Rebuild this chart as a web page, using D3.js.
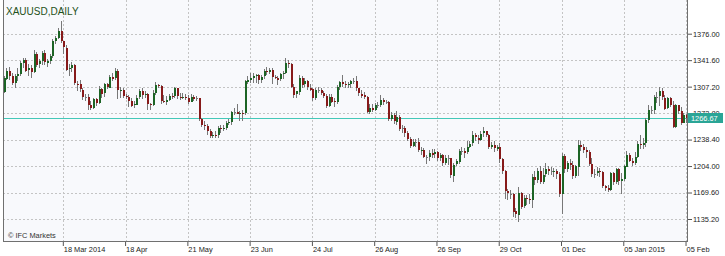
<!DOCTYPE html>
<html lang="en">
<head>
<meta charset="utf-8">
<script src="https://cdn.jsdelivr.net/npm/d3@7"></script>
<style>
  body { margin: 0; background: #fff; }
  svg text { font-family: "Liberation Sans", Arial, sans-serif; }
  .axis text { font-size: 7.4px; fill: #222; }
  .axis line { stroke: #555; }
  .axis path { display: none; }
  .grid line { stroke: #c4c4c4; stroke-dasharray: 2,2; shape-rendering: crispEdges; }
</style>
</head>
<body>
<div id="chart"></div>
<script>
// daily XAUUSD bars, 14 Feb 2014 .. 05 Feb 2015 (one entry per bar)
var open = [
  1300,1318,1328,1321,1312,1321,1324,1338,1342,1328,
  1331,1326,1350,1336,1340,1351,1339,1341,1347,1366,
  1370,1379,1366,1358,1330,1331,1335,1311,1310,1303,
  1294,1294,1283,1279,1291,1286,1304,1298,1310,1306,
  1320,1318,1327,1302,1303,1295,1294,1289,1283,1284,
  1293,1301,1296,1297,1284,1283,1299,1309,1308,1289,
  1288,1290,1295,1294,1305,1294,1293,1294,1293,1288,
  1294,1292,1292,1265,1257,1256,1250,1244,1245,1244,
  1253,1252,1253,1260,1261,1274,1274,1272,1273,1272,
  1314,1316,1318,1321,1322,1316,1320,1327,1326,1329,
  1320,1319,1317,1324,1325,1338,1337,1307,1297,1301,
  1319,1310,1314,1306,1304,1292,1303,1303,1299,1295,
  1282,1294,1288,1287,1307,1313,1310,1309,1310,1314,
  1314,1305,1298,1296,1294,1275,1280,1277,1283,1283,
  1290,1287,1287,1265,1270,1262,1268,1253,1253,1247,
  1239,1230,1235,1235,1224,1225,1216,1216,1221,1219,
  1222,1214,1218,1208,1214,1214,1192,1206,1210,1224,
  1224,1222,1229,1233,1244,1241,1238,1246,1249,1244,
  1229,1231,1227,1229,1213,1197,1171,1168,1168,1145,
  1141,1169,1151,1162,1161,1160,1190,1186,1198,1184,
  1193,1200,1197,1197,1198,1194,1168,1217,1200,1208,
  1205,1191,1204,1232,1229,1225,1222,1207,1194,1194,
  1197,1196,1178,1176,1173,1195,1183,1200,1184,1187,
  1204,1219,1211,1208,1216,1233,1232,1234,1264,1277,
  1277,1294,1294,1301,1293,1279,1292,1283,1255,1283,
  1275,1260,1270
];
var high = [
  1321,1331,1333,1325,1323,1332,1340,1344,1345,1336,
  1335,1355,1352,1343,1353,1355,1343,1350,1369,1373,
  1383,1392,1367,1361,1336,1339,1336,1315,1316,1305,
  1298,1297,1289,1293,1293,1308,1305,1312,1312,1322,
  1325,1331,1330,1307,1305,1297,1296,1292,1289,1296,
  1304,1306,1301,1299,1286,1303,1313,1311,1309,1296,
  1295,1298,1299,1307,1306,1299,1299,1298,1296,1297,
  1296,1295,1293,1267,1262,1259,1252,1248,1249,1256,
  1257,1257,1263,1265,1276,1279,1284,1276,1277,1316,
  1321,1325,1325,1324,1323,1322,1330,1333,1331,1331,
  1322,1321,1325,1327,1345,1342,1338,1311,1302,1322,
  1321,1318,1316,1311,1305,1305,1307,1306,1301,1297,
  1297,1297,1292,1309,1315,1322,1314,1313,1316,1319,
  1321,1306,1303,1300,1295,1284,1284,1286,1287,1296,
  1292,1290,1288,1274,1273,1275,1270,1257,1256,1250,
  1242,1239,1239,1240,1229,1228,1219,1225,1226,1226,
  1224,1221,1220,1219,1219,1215,1208,1213,1226,1229,
  1227,1236,1237,1249,1247,1244,1249,1255,1250,1246,
  1235,1236,1232,1234,1214,1199,1174,1173,1169,1149,
  1177,1170,1167,1167,1168,1194,1198,1201,1204,1201,
  1208,1204,1203,1202,1200,1196,1221,1220,1211,1213,
  1210,1206,1238,1236,1233,1229,1225,1214,1200,1203,
  1201,1197,1180,1179,1196,1196,1202,1201,1195,1206,
  1223,1221,1215,1222,1236,1245,1241,1267,1283,1282,
  1296,1300,1307,1305,1296,1294,1294,1288,1284,1283,
  1281,1273,1272
];
var low = [
  1299,1316,1316,1309,1306,1315,1321,1332,1326,1321,
  1319,1325,1333,1332,1335,1335,1333,1337,1345,1362,
  1369,1364,1350,1327,1321,1326,1309,1302,1300,1290,
  1288,1277,1277,1278,1282,1284,1293,1294,1304,1305,
  1315,1316,1291,1293,1292,1291,1281,1281,1280,1283,
  1291,1291,1293,1277,1277,1282,1296,1305,1285,1286,
  1283,1288,1291,1293,1291,1290,1291,1290,1285,1287,
  1289,1289,1263,1255,1251,1245,1241,1241,1240,1240,
  1247,1249,1251,1257,1258,1270,1271,1262,1262,1270,
  1310,1312,1312,1312,1310,1312,1317,1322,1323,1310,
  1317,1309,1314,1317,1323,1331,1305,1292,1293,1296,
  1306,1307,1303,1302,1289,1290,1299,1296,1293,1280,
  1281,1286,1281,1285,1303,1307,1305,1305,1306,1311,
  1301,1295,1292,1291,1273,1271,1274,1276,1279,1281,
  1283,1284,1262,1262,1259,1258,1250,1247,1242,1236,
  1227,1229,1229,1222,1219,1214,1207,1211,1215,1215,
  1211,1210,1204,1206,1206,1189,1183,1204,1207,1218,
  1215,1220,1227,1230,1237,1233,1236,1242,1242,1226,
  1226,1222,1224,1208,1194,1161,1160,1161,1138,1137,
  1131,1148,1149,1153,1155,1149,1180,1182,1181,1181,
  1190,1192,1192,1190,1187,1164,1142,1195,1196,1199,
  1187,1189,1191,1223,1221,1215,1204,1190,1188,1191,
  1190,1175,1172,1170,1172,1180,1181,1180,1168,1184,
  1203,1209,1204,1206,1215,1226,1226,1229,1260,1272,
  1272,1286,1282,1290,1277,1278,1281,1253,1253,1271,
  1257,1260,1260
];
var close = [
  1318,1328,1321,1312,1321,1324,1338,1342,1328,1331,
  1326,1350,1336,1340,1351,1339,1341,1347,1366,1370,
  1379,1366,1358,1330,1331,1335,1311,1310,1303,1294,
  1294,1283,1279,1291,1286,1304,1298,1310,1306,1320,
  1318,1327,1302,1303,1295,1294,1289,1283,1284,1293,
  1301,1296,1297,1284,1283,1299,1309,1308,1289,1288,
  1290,1295,1294,1305,1294,1293,1294,1293,1288,1294,
  1292,1292,1265,1257,1256,1250,1244,1245,1244,1253,
  1252,1253,1260,1261,1274,1274,1272,1273,1272,1314,
  1316,1318,1321,1322,1316,1320,1327,1326,1329,1320,
  1319,1317,1324,1325,1338,1337,1307,1297,1301,1319,
  1310,1314,1306,1304,1292,1303,1303,1299,1295,1282,
  1294,1288,1287,1307,1313,1310,1309,1310,1314,1314,
  1305,1298,1296,1294,1275,1280,1277,1283,1283,1290,
  1287,1287,1265,1270,1262,1268,1253,1253,1247,1239,
  1230,1235,1235,1224,1225,1216,1216,1221,1219,1222,
  1214,1218,1208,1214,1214,1192,1206,1210,1224,1224,
  1222,1229,1233,1244,1241,1238,1246,1249,1244,1229,
  1231,1227,1229,1213,1197,1171,1168,1168,1145,1141,
  1169,1151,1162,1161,1160,1190,1186,1198,1184,1193,
  1200,1197,1197,1198,1194,1168,1217,1200,1208,1205,
  1191,1204,1232,1229,1225,1222,1207,1194,1194,1197,
  1196,1178,1176,1173,1195,1183,1200,1184,1187,1204,
  1219,1211,1208,1216,1233,1232,1234,1264,1277,1277,
  1294,1294,1301,1293,1279,1292,1283,1255,1283,1275,
  1260,1270,1266.67
];

var priceTicks = [1376.00, 1341.60, 1307.20, 1272.80, 1238.40, 1204.00, 1169.60, 1135.20];
var dateTickBars = [22, 45, 68, 91, 114, 137, 160, 183, 206, 229, 252];
var dateTickLabels = ["18 Mar 2014", "18 Apr", "21 May", "23 Jun", "24 Jul", "26 Aug",
                      "26 Sep", "29 Oct", "01 Dec", "05 Jan 2015", "05 Feb"];
var lastPrice = 1266.67;

var W = 725, H = 256;
var plot = { left: 3, right: 688, top: 0, bottom: 241 };

var svg = d3.select("#chart").append("svg")
    .attr("width", W)
    .attr("height", H);

var x = d3.scaleBand()
    .domain(d3.range(close.length))
    .range([plot.left - 0.6, plot.right - 0.6]);
var y = d3.scaleLinear()
    .domain([1135.2, 1376])
    .range([219, 33.7]);

function cx(i) { return Math.round(x(i) + x.bandwidth() / 2); }
function py(v) { return Math.round(y(v)) + 0.5; }

svg.append("rect")
    .attr("x", plot.left).attr("y", plot.top)
    .attr("width", plot.right - plot.left)
    .attr("height", plot.bottom - plot.top)
    .attr("fill", "#f8f9fc");

// grid
var grid = svg.append("g").attr("class", "grid");
grid.selectAll(".hg").data(priceTicks).enter().append("line")
    .attr("x1", plot.left).attr("x2", plot.right)
    .attr("y1", function(d) { return py(d); })
    .attr("y2", function(d) { return py(d); });
grid.selectAll(".vg").data(dateTickBars).enter().append("line")
    .attr("x1", function(d) { return cx(d) + 0.5; })
    .attr("x2", function(d) { return cx(d) + 0.5; })
    .attr("y1", plot.top).attr("y2", plot.bottom);

// last price line
svg.append("line")
    .attr("x1", plot.left).attr("x2", plot.right)
    .attr("y1", py(lastPrice)).attr("y2", py(lastPrice))
    .attr("stroke", "#44c8b8")
    .attr("shape-rendering", "crispEdges");

// candles
var bars = svg.append("g").attr("shape-rendering", "crispEdges");
var idx = d3.range(close.length);
bars.selectAll(".wick").data(idx).enter().append("line")
    .attr("x1", function(i) { return cx(i) + 0.5; })
    .attr("x2", function(i) { return cx(i) + 0.5; })
    .attr("y1", function(i) { return y(high[i]); })
    .attr("y2", function(i) { return y(low[i]); })
    .attr("stroke", "#787878");
bars.selectAll(".body").data(idx).enter().append("rect")
    .attr("x", function(i) { return cx(i); })
    .attr("width", 2)
    .attr("y", function(i) { return Math.round(y(Math.max(open[i], close[i]))); })
    .attr("height", function(i) {
        return Math.max(1, Math.round(Math.abs(y(open[i]) - y(close[i]))));
    })
    .attr("fill", function(i) {
        if (close[i] > open[i]) return "#1c6425";
        if (close[i] < open[i]) return "#871a1a";
        return "#787878";
    });

// frame
var frame = svg.append("g").attr("stroke", "#707070").attr("shape-rendering", "crispEdges");
frame.append("line").attr("x1", plot.left + 0.5).attr("x2", plot.left + 0.5)
    .attr("y1", plot.top).attr("y2", plot.bottom);
frame.append("line").attr("x1", plot.right - 0.5).attr("x2", plot.right - 0.5)
    .attr("y1", plot.top).attr("y2", plot.bottom);
frame.append("line").attr("x1", plot.left).attr("x2", plot.right)
    .attr("y1", plot.bottom + 0.5).attr("y2", plot.bottom + 0.5);

// axes
var yAxis = svg.append("g")
    .attr("class", "axis")
    .attr("transform", "translate(" + plot.right + ",0)")
    .call(d3.axisRight(y)
        .tickValues(priceTicks)
        .tickFormat(d3.format(".2f"))
        .tickSize(4)
        .tickPadding(1));

var xAxis = svg.append("g")
    .attr("class", "axis")
    .attr("transform", "translate(0," + (plot.bottom + 1) + ")")
    .call(d3.axisBottom(x)
        .tickValues(dateTickBars)
        .tickFormat(function(d, k) { return dateTickLabels[k]; })
        .tickSize(4)
        .tickPadding(1));
xAxis.selectAll("text")
    .attr("text-anchor", "start")
    .attr("dx", "0.5");

// last price tag (covers the 1272.80 label, as in the terminal)
var tagY = py(lastPrice);
svg.append("rect")
    .attr("x", plot.right).attr("y", tagY - 5.5)
    .attr("width", 35).attr("height", 10)
    .attr("fill", "#2aa596");
svg.append("text")
    .attr("x", plot.right + 3).attr("y", tagY + 2.6)
    .attr("font-size", "7.4px")
    .attr("fill", "#fff")
    .text(d3.format(".2f")(lastPrice));

// title and credit
svg.append("text")
    .attr("x", 6).attr("y", 15.3)
    .attr("font-size", "10px")
    .attr("fill", "#1f5220")
    .text("XAUUSD,DAILY");
svg.append("text")
    .attr("x", 8).attr("y", 238)
    .attr("font-size", "7.4px")
    .attr("fill", "#333")
    .text("\u00a9 IFC Markets");
</script>
</body>
</html>
